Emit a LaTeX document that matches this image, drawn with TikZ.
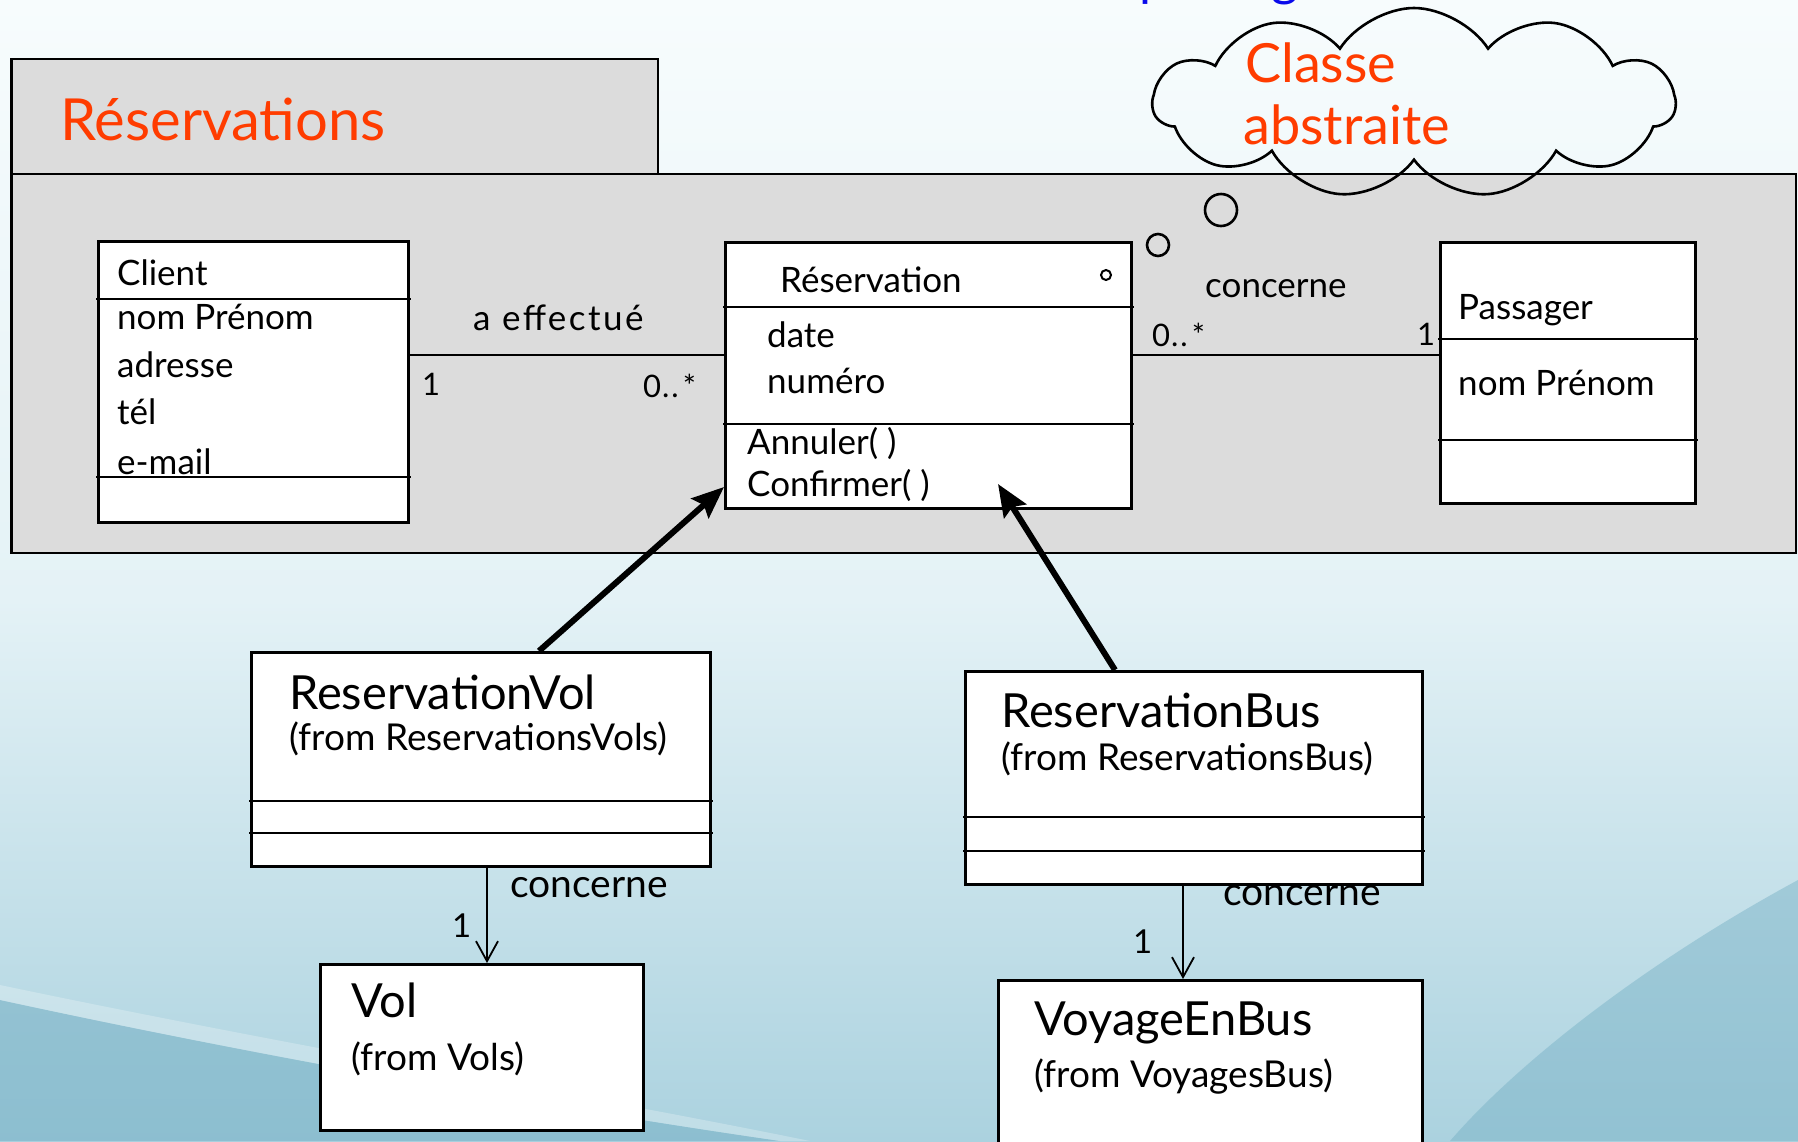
\documentclass[tikz,border=0pt]{standalone}
\usepackage{fontspec}
\setmainfont{Lato}
\usetikzlibrary{arrows.meta,shapes.symbols,calc}

\definecolor{pkggray}{HTML}{DCDCDC}
\definecolor{titlered}{RGB}{255,60,0}
\definecolor{titleblue}{RGB}{10,10,235}
\definecolor{bgtop}{HTML}{F7FCFD}
\definecolor{bgmid}{HTML}{E4F2F6}
\definecolor{bglow}{HTML}{ABD2DF}
\definecolor{bgdeep}{HTML}{74AFC4}

\tikzset{
  ln/.style={line width=2.6pt, line cap=rect},
  cls/.style={draw, line width=2.6pt, fill=white, inner sep=0pt, anchor=north west},
  txt/.style={anchor=base west, inner sep=0pt, font=\fontsize{35}{40}\selectfont},
  big/.style={anchor=base west, inner sep=0pt, font=\fontsize{47}{54}\selectfont},
  sub/.style={anchor=base west, inner sep=0pt, font=\fontsize{37}{44}\selectfont},
  lbl/.style={anchor=base west, inner sep=0pt, font=\fontsize{39}{44}\selectfont},
  mult/.style={anchor=base west, inner sep=0pt, font=\fontsize{31}{34}\selectfont},
  multb/.style={anchor=base west, inner sep=0pt, font=\fontsize{33}{36}\selectfont},
  inherit/.style={line width=6pt, -{Stealth[length=32pt,width=26pt,inset=5pt]}},
  dep/.style={line width=1.8pt, -{Straight Barb[length=20pt,width=22pt,line width=1.8pt]}},
}
\newcommand{\zerostar}{0\kern1pt.\kern2pt.\kern4pt*}

\begin{document}
\begin{tikzpicture}[x=1pt,y=-1pt]
\useasboundingbox (0,0) rectangle (1798,1141);
\begin{scope}
\clip (0,0) rectangle (1798,1141);
% slide background
\shade[top color=bgtop, bottom color=bgmid] (0,0) rectangle (1798,600);
\shade[top color=bgmid, bottom color=bglow] (0,599) rectangle (1798,1141);
\fill[bgdeep, opacity=0.55] (0,1000) .. controls (300,1065) and (600,1115) .. (780,1141) -- (0,1141) -- cycle;
\fill[white, opacity=0.25] (0,985) .. controls (300,1048) and (600,1098) .. (810,1141) -- (780,1141) .. controls (600,1115) and (300,1065) .. (0,1000) -- cycle;
\fill[bgdeep, opacity=0.45] (1798,880) .. controls (1650,960) and (1520,1060) .. (1450,1141) -- (1798,1141) -- cycle;
% heading line, cut by the top edge
\node[anchor=base west, inner sep=0pt, text=titleblue, font=\fontsize{52}{60}\selectfont] (heading) at (1139,-5) {package};
\end{scope}

% package frame
\draw[line width=2.6pt, fill=pkggray] (11.5,59) rectangle (658,174);
\draw[line width=2.6pt, fill=pkggray] (11.5,174) rectangle (1796,553);
\node[anchor=base west, inner sep=0pt, text=titlered, font=\fontsize{58}{66}\selectfont] (pkgname) at (60,140) {Réservations};

% thought cloud
\node[cloud, draw, line width=2.6pt, cloud puffs=11, cloud puff arc=115, aspect=2.6,
      minimum width=522pt, minimum height=190pt, inner sep=0pt] (cloud) at (1414,103) {};
\node[anchor=base west, inner sep=0pt, text=titlered, font=\fontsize{54}{62}\selectfont] (cloudA) at (1245,82) {Classe};
\node[anchor=base west, inner sep=0pt, text=titlered, font=\fontsize{54}{62}\selectfont] (cloudB) at (1243,144) {abstraite};
\draw[line width=2.6pt] (1221,210) circle[radius=16pt];
\draw[line width=2.6pt] (1158,245) circle[radius=11pt];

% Client
\node[cls, minimum width=310pt, minimum height=281pt] (client) at (97,240) {};
\draw[ln] (client.west |- 0,299) -- (client.east |- 0,299);
\draw[ln] (client.west |- 0,477) -- (client.east |- 0,477);
\node[txt] (cl1) at (117,285) {Client};
\node[txt] (cl2) at (117,329) {nom Prénom};
\node[txt] (cl3) at (117,377) {adresse};
\node[txt] (cl4) at (117,424) {tél};
\node[txt] (cl5) at (117,474) {e-mail};

% Reservation (abstract)
\node[cls, minimum width=406pt, minimum height=266pt] (res) at (724,241) {};
\draw[ln] (res.west |- 0,307) -- (res.east |- 0,307);
\draw[ln] (res.west |- 0,424) -- (res.east |- 0,424);
\node[txt] (re1) at (780,292) {Réservation};
\draw[line width=2pt] (1106,275) circle[radius=5pt];
\node[txt] (re2) at (767,347) {date};
\node[txt] (re3) at (767,393) {numéro};
\node[txt] (re4) at (747,454) {Annuler( )};
\node[txt] (re5) at (747,496) {Confirmer( )};
\coordinate (resIn) at (998,484);

% Passager
\node[cls, minimum width=255pt, minimum height=261pt] (pas) at (1439,241) {};
\draw[ln] (pas.west |- 0,339) -- (pas.east |- 0,339);
\draw[ln] (pas.west |- 0,440) -- (pas.east |- 0,440);
\node[txt] (pa1) at (1458,319) {Passager};
\node[txt] (pa2) at (1458,395) {nom Prénom};

% associations
\draw[ln, line cap=butt] (client.east |- 0,355) -- (res.west |- 0,355);
\node[txt, font=\fontsize{35}{40}\selectfont\addfontfeature{LetterSpace=7}] (a1) at (473,330) {a effectué};
\node[mult] (a1m1) at (422,395) {1};
\node[mult] (a1m2) at (643,397) {\zerostar};
\draw[ln, line cap=butt] (1133,355) -- (pas.west |- 0,355);
\node[txt] (a2) at (1205,297) {concerne};
\node[mult] (a2m1) at (1152,346) {\zerostar};
\node[mult] (a2m2) at (1417,345) {1};

% ReservationVol
\node[cls, minimum width=459pt, minimum height=214pt] (rvol) at (250,651) {};
\draw[ln] (rvol.west |- 0,801) -- (rvol.east |- 0,801);
\draw[ln] (rvol.west |- 0,833) -- (rvol.east |- 0,833);
\node[big] (rv1) at (289,709) {ReservationVol};
\node[sub] (rv2) at (289,750) {(from ReservationsVols)};

% ReservationBus
\node[cls, minimum width=457pt, minimum height=213pt] (rbus) at (964,670) {};
\draw[ln] (rbus.west |- 0,817) -- (rbus.east |- 0,817);
\draw[ln] (rbus.west |- 0,851) -- (rbus.east |- 0,851);
\node[big] (rb1) at (1001,727) {ReservationBus};
\node[sub] (rb2) at (1001,770) {(from ReservationsBus)};

% Vol
\node[cls, minimum width=323pt, minimum height=166pt] (vol) at (319,963) {};
\node[big] (vo1) at (351,1017) {Vol};
\node[sub] (vo2) at (351,1070) {(from Vols)};

% VoyageEnBus
\node[cls, minimum width=424pt, minimum height=200pt] (vbus) at (997,979) {};
\node[big] (vb1) at (1034,1035) {VoyageEnBus};
\node[sub] (vb2) at (1034,1087) {(from VoyagesBus)};

% generalisations
\draw[inherit] (rvol.north -| 539,0) -- (res.west |- 0,487);
\draw[inherit] (rbus.north -| 1115,0) -- (resIn);

% navigable associations
\draw[dep] (rvol.south -| 487,0) -- (vol.north -| 487,0);
\node[lbl] (d1) at (510,897) {concerne};
\node[multb] (d1m) at (452,937) {1};
\draw[dep] (rbus.south -| 1183,0) -- (vbus.north -| 1183,0);
\node[lbl] (d2) at (1223,905) {concerne};
\node[multb] (d2m) at (1133,953) {1};
\end{tikzpicture}
\end{document}
